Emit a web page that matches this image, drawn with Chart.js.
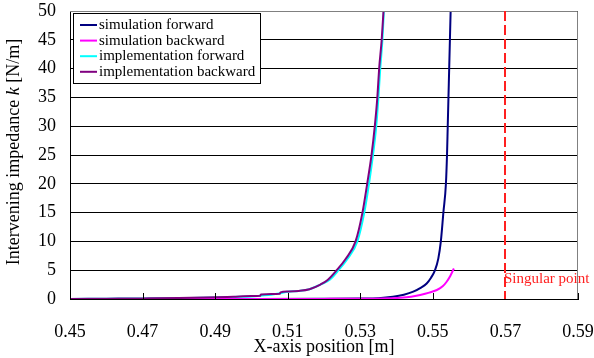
<!DOCTYPE html>
<html>
<head>
<meta charset="utf-8">
<script src="https://cdn.jsdelivr.net/npm/chart.js@4.4.1/dist/chart.umd.min.js"></script>
<style>
  body { margin: 0; background: #fff; }
</style>
</head>
<body>
<canvas id="myChart" width="594" height="358"></canvas>
<script>
// tick values
const xTicks = [0.45, 0.47, 0.49, 0.51, 0.53, 0.55, 0.57, 0.59];
const yTicks = [0, 5, 10, 15, 20, 25, 30, 35, 40, 45, 50];
const singularX = 0.57;

// simulation forward
const simFwdX = [0.45, 0.50, 0.52, 0.53, 0.535, 0.539, 0.542, 0.5446, 0.5465, 0.5483, 0.5495, 0.5506, 0.5515, 0.5522, 0.5529, 0.5536, 0.5539, 0.5541, 0.5543, 0.5545, 0.5547, 0.5549];
const simFwdY = [0, 0, 0.03, 0.08, 0.15, 0.4, 0.75, 1.27, 1.9, 2.7, 3.7, 5, 7, 10, 15, 20, 25, 30, 35, 40, 45, 50];

// simulation backward
const simBwdX = [0.45, 0.50, 0.52, 0.53, 0.536, 0.541, 0.544, 0.5465, 0.549, 0.5511, 0.5527, 0.5538, 0.5548, 0.5558];
const simBwdY = [0, 0, 0.02, 0.05, 0.1, 0.23, 0.4, 0.7, 1.1, 1.56, 2.2, 3.0, 4.0, 5.3];

// implementation forward
const impFwdX = [0.45, 0.46, 0.47, 0.48, 0.49, 0.495, 0.50, 0.503, 0.5055, 0.508, 0.510, 0.513, 0.516, 0.519, 0.5215, 0.524, 0.5265, 0.5292, 0.5311, 0.5324, 0.5335, 0.5344, 0.5350, 0.5355, 0.5361, 0.5365];
const impFwdY = [0, 0.05, 0.1, 0.15, 0.25, 0.35, 0.45, 0.6, 0.75, 1.0, 1.25, 1.4, 1.7, 2.5, 3.3, 5, 7, 10, 15, 20, 25, 30, 35, 40, 45, 50];

// implementation backward
const impBwdX = [0.45, 0.46, 0.47, 0.48, 0.49, 0.495, 0.50, 0.5024, 0.5026, 0.5055, 0.5078, 0.5080, 0.510, 0.513, 0.516, 0.519, 0.521, 0.5235, 0.526, 0.5287, 0.5306, 0.5319, 0.5331, 0.5340, 0.5347, 0.5352, 0.5359, 0.5364];
const impBwdY = [0, 0.05, 0.1, 0.17, 0.3, 0.4, 0.5, 0.55, 0.8, 0.85, 0.9, 1.15, 1.3, 1.4, 1.7, 2.5, 3.3, 5, 7, 10, 15, 20, 25, 30, 35, 40, 45, 50];

const serif = "'Liberation Serif', 'Times New Roman', serif";
Chart.defaults.font.family = serif;
Chart.defaults.color = "#000";

function pts(xs, ys) {
  return xs.map((x, i) => ({ x: x, y: ys[i] }));
}

// legend box, frame, inside ticks, titles, singular line
const extras = {
  id: "extras",
  afterDatasetsDraw(chart) {
    const ctx = chart.ctx;
    const a = chart.chartArea;
    const xs = chart.scales.x;

    ctx.save();
    // top / right frame
    ctx.strokeStyle = "#808080";
    ctx.lineWidth = 1;
    ctx.beginPath();
    ctx.moveTo(a.left, a.top + 0.5);
    ctx.lineTo(a.right - 0.5, a.top + 0.5);
    ctx.lineTo(a.right - 0.5, a.bottom);
    ctx.stroke();

    // small ticks inside the x axis
    ctx.strokeStyle = "#000";
    xTicks.forEach((v) => {
      const px = Math.round(xs.getPixelForValue(v)) + 0.5;
      ctx.beginPath();
      ctx.moveTo(px, a.bottom);
      ctx.lineTo(px, a.bottom - 6);
      ctx.stroke();
    });

    // singular point
    const sx = Math.round(xs.getPixelForValue(singularX));
    ctx.strokeStyle = "#ff2020";
    ctx.lineWidth = 2;
    ctx.setLineDash([10, 4]);
    ctx.beginPath();
    ctx.moveTo(sx, a.top);
    ctx.lineTo(sx, a.bottom);
    ctx.stroke();
    ctx.setLineDash([]);
    ctx.fillStyle = "#ff2020";
    ctx.font = "15px " + serif;
    ctx.textAlign = "left";
    ctx.textBaseline = "alphabetic";
    ctx.fillText("Singular point", sx - 1, 283);

    // legend
    const lx = 73, ly = 13, lw = 187, lh = 70;
    ctx.fillStyle = "#fff";
    ctx.fillRect(lx, ly, lw, lh);
    ctx.strokeStyle = "#000";
    ctx.lineWidth = 1;
    ctx.strokeRect(lx + 0.5, ly + 0.5, lw, lh);
    ctx.font = "15px " + serif;
    ctx.textBaseline = "middle";
    chart.data.datasets.forEach((ds, i) => {
      const y = 25 + i * 15.6;
      ctx.strokeStyle = ds.borderColor;
      ctx.lineWidth = 2;
      ctx.beginPath();
      ctx.moveTo(80, y);
      ctx.lineTo(97, y);
      ctx.stroke();
      ctx.fillStyle = "#000";
      ctx.fillText(ds.label, 99, y);
    });

    // axis titles
    ctx.font = "18px " + serif;
    ctx.textAlign = "center";
    ctx.fillText("X-axis position [m]", (a.left + a.right) / 2, 347);

    ctx.translate(14, 152);
    ctx.rotate(-Math.PI / 2);
    const parts = [
      ["Intervening impedance ", "18px " + serif],
      ["k", "italic 18px " + serif],
      [" [N/m]", "18px " + serif],
    ];
    let total = 0;
    parts.forEach((p) => { ctx.font = p[1]; total += ctx.measureText(p[0]).width; });
    let cx = -total / 2;
    ctx.textAlign = "left";
    parts.forEach((p) => {
      ctx.font = p[1];
      ctx.fillText(p[0], cx, 0);
      cx += ctx.measureText(p[0]).width;
    });
    ctx.restore();
  },
};

const config = {
  type: "line",
  data: {
    datasets: [
      { label: "simulation forward", data: pts(simFwdX, simFwdY), borderColor: "#000080", order: 3 },
      { label: "simulation backward", data: pts(simBwdX, simBwdY), borderColor: "#ff00ff", order: 1 },
      { label: "implementation forward", data: pts(impFwdX, impFwdY), borderColor: "#00ffff", order: 2 },
      { label: "implementation backward", data: pts(impBwdX, impBwdY), borderColor: "#800080", order: 0 },
    ],
  },
  options: {
    responsive: false,
    animation: false,
    devicePixelRatio: 1,
    layout: { padding: 0 },
    elements: {
      line: { borderWidth: 2, cubicInterpolationMode: "monotone", fill: false },
      point: { radius: 0 },
    },
    plugins: {
      legend: { display: false },
      tooltip: { enabled: false },
    },
    scales: {
      x: {
        type: "linear",
        min: 0.45,
        max: 0.59,
        afterBuildTicks: (s) => { s.ticks = xTicks.map((v) => ({ value: v })); },
        afterFit: (s) => {
          s.height = 59;
          s.paddingLeft = 0;
          s.paddingRight = 16;
        },
        grid: { display: false },
        border: { display: true, color: "#000", width: 1 },
        ticks: {
          font: { size: 18 },
          padding: 14,
          maxRotation: 0,
          callback: (v) => v.toFixed(2),
        },
      },
      y: {
        min: 0,
        max: 50,
        afterBuildTicks: (s) => { s.ticks = yTicks.map((v) => ({ value: v })); },
        afterFit: (s) => {
          s.width = 70;
          s.paddingTop = 11;
          s.paddingBottom = 0;
        },
        grid: { color: "#000", lineWidth: 1, drawTicks: false },
        border: { display: true, color: "#000", width: 1 },
        ticks: { font: { size: 18 }, padding: 14 },
      },
    },
  },
  plugins: [extras],
};

const myChart = new Chart(document.getElementById("myChart").getContext("2d"), config);
</script>
</body>
</html>
